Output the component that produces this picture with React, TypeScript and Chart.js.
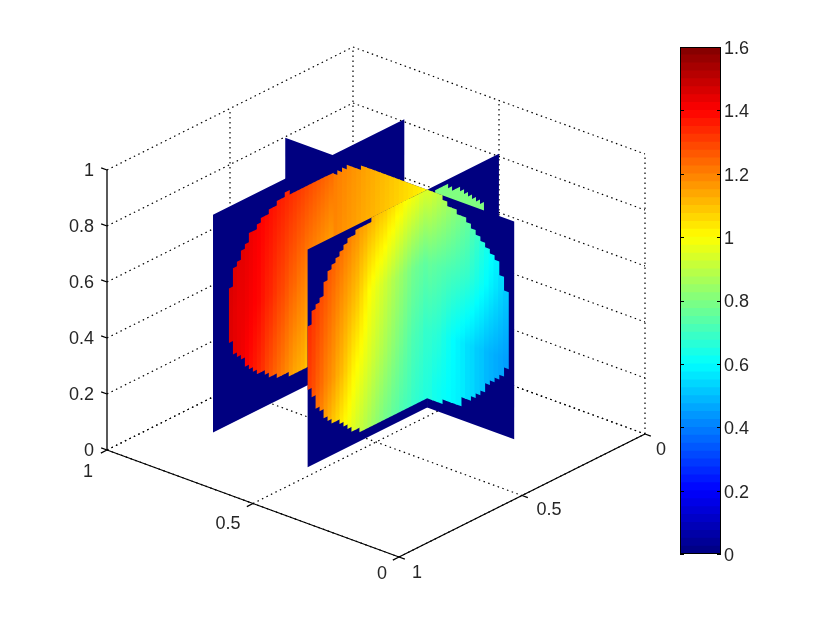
import React, { useEffect, useRef } from "react";
import { Chart, registerables } from "chart.js";

Chart.register(...registerables);

// ---- axis ticks and labels
const zTicks = [0, 0.2, 0.4, 0.6, 0.8, 1];
const zLabels = ["0", "0.2", "0.4", "0.6", "0.8", "1"];
const uTicks = [1, 0.5, 0];
const uLabels = ["1", "0.5", "0"];
const bTicks = [0, 0.5, 1]; // b = 1 - y value
const bLabels = ["1", "0.5", "0"];
const colorTicksMax = 1.6;

// ---- colorbar levels (upper bound of every jet band)
const colorLevels = [
  0.025, 0.05, 0.075, 0.1, 0.125, 0.15, 0.175, 0.2, 0.225, 0.25, 0.275, 0.3, 0.325, 0.35, 0.375, 0.4,
  0.425, 0.45, 0.475, 0.5, 0.525, 0.55, 0.575, 0.6, 0.625, 0.65, 0.675, 0.7, 0.725, 0.75, 0.775, 0.8,
  0.825, 0.85, 0.875, 0.9, 0.925, 0.95, 0.975, 1, 1.025, 1.05, 1.075, 1.1, 1.125, 1.15, 1.175, 1.2,
  1.225, 1.25, 1.275, 1.3, 1.325, 1.35, 1.375, 1.4, 1.425, 1.45, 1.475, 1.5, 1.525, 1.55, 1.575, 1.6,
];

// ---- plane A (back u-plane, grid column 10 of the v-plane), columns 4..29
const p1Rows = [4, 24, 44];
const p1Lo = [18, 15, 14, 13, 11, 10, 9, 8, 8, 7, 6, 6, 5, 5, 5, 4, 4, 4, 4, 4, 4, 4, 4, 4, 4, 4];
const p1Hi = [30, 34, 35, 37, 38, 40, 40, 41, 42, 42, 43, 43, 44, 44, 45, 44, 44, 44, 44, 44, 44, 44, 44, 44, 44, 44];
const p1V0 = [1.45, 1.44, 1.43, 1.41, 1.39, 1.37, 1.35, 1.33, 1.31, 1.28, 1.26, 1.24, 1.22, 1.2, 1.18, 1.16, 1.14, 1.13, 1.12, 1.1, 1.09, 1.08, 1.07, 1.06, 1.06, 1.05];
const p1V1 = [1.45, 1.44, 1.43, 1.43, 1.42, 1.41, 1.4, 1.39, 1.37, 1.35, 1.34, 1.32, 1.3, 1.29, 1.27, 1.25, 1.24, 1.22, 1.21, 1.19, 1.18, 1.17, 1.16, 1.15, 1.14, 1.13];
const p1V2 = [1.47, 1.46, 1.45, 1.45, 1.44, 1.43, 1.42, 1.41, 1.4, 1.39, 1.38, 1.37, 1.36, 1.35, 1.34, 1.33, 1.32, 1.31, 1.3, 1.29, 1.28, 1.27, 1.26, 1.25, 1.24, 1.23];

// ---- plane C (front u-plane), columns 0..29
const p3Rows = [2, 17, 32, 48];
const p3Lo = [17, 15, 12, 11, 9, 8, 7, 7, 6, 5, 4, 3, 3, 2, 2, 2, 2, 2, 2, 2, 2, 2, 2, 2, 2, 2, 2, 2, 2, 2];
const p3Hi = [31, 34, 35, 36, 39, 41, 42, 43, 44, 45, 46, 46, 47, 47, 47, 47, 48, 48, 48, 48, 48, 48, 48, 48, 48, 48, 48, 48, 48, 48];
const p3V0 = [1.22, 1.2, 1.17, 1.14, 1.11, 1.08, 1.05, 1.03, 1.0, 0.98, 0.96, 0.94, 0.92, 0.9, 0.88, 0.86, 0.84, 0.82, 0.8, 0.78, 0.77, 0.75, 0.74, 0.72, 0.71, 0.7, 0.68, 0.67, 0.66, 0.65];
const p3V1 = [1.3, 1.28, 1.25, 1.23, 1.2, 1.18, 1.16, 1.13, 1.11, 1.08, 1.05, 1.02, 1.0, 0.98, 0.96, 0.94, 0.92, 0.9, 0.88, 0.86, 0.84, 0.82, 0.8, 0.78, 0.76, 0.74, 0.72, 0.71, 0.7, 0.68];
const p3V2 = [1.33, 1.31, 1.29, 1.27, 1.25, 1.23, 1.21, 1.19, 1.17, 1.15, 1.13, 1.11, 1.09, 1.06, 1.03, 1.0, 0.98, 0.96, 0.94, 0.92, 0.9, 0.88, 0.86, 0.84, 0.82, 0.8, 0.78, 0.77, 0.76, 0.75];
const p3V3 = [1.34, 1.33, 1.32, 1.31, 1.3, 1.28, 1.27, 1.25, 1.24, 1.22, 1.21, 1.19, 1.18, 1.16, 1.15, 1.13, 1.12, 1.1, 1.09, 1.08, 1.06, 1.05, 1.03, 1.02, 1.0, 0.99, 0.98, 0.97, 0.95, 0.94];

// ---- plane B (v-plane), middle piece, columns 10..29
const p2mRows = [32, 48];
const p2mLo = [2, 2, 2, 2, 2, 2, 2, 2, 2, 2, 2, 2, 2, 2, 2, 2, 2, 2, 2, 2];
const p2mHi = [44, 45, 46, 47, 47, 47, 48, 48, 48, 48, 48, 48, 48, 48, 48, 48, 48, 48, 48, 48];
const p2mV0 = [1.19, 1.18, 1.17, 1.16, 1.15, 1.14, 1.13, 1.12, 1.11, 1.1, 1.09, 1.08, 1.07, 1.06, 1.05, 1.04, 1.02, 1.0, 0.98, 0.95];
const p2mV1 = [1.21, 1.2, 1.19, 1.18, 1.17, 1.16, 1.15, 1.14, 1.13, 1.12, 1.11, 1.1, 1.09, 1.08, 1.07, 1.06, 1.05, 1.04, 1.03, 1.01];

// ---- plane B (v-plane), front piece, columns 30..46
const p2rRows = [5, 17, 32, 48];
const p2rLo = [2, 2, 2, 3, 3, 3, 3, 5, 5, 6, 7, 8, 10, 11, 12, 13, 15];
const p2rHi = [48, 48, 48, 47, 46, 46, 45, 45, 44, 43, 42, 41, 40, 39, 38, 35, 32];
const p2rV0 = [0.65, 0.63, 0.62, 0.61, 0.6, 0.59, 0.58, 0.57, 0.55, 0.54, 0.52, 0.51, 0.49, 0.48, 0.47, 0.46, 0.45];
const p2rV1 = [0.68, 0.67, 0.66, 0.64, 0.62, 0.6, 0.585, 0.57, 0.55, 0.54, 0.52, 0.51, 0.49, 0.48, 0.47, 0.46, 0.45];
const p2rV2 = [0.76, 0.75, 0.74, 0.73, 0.72, 0.71, 0.7, 0.69, 0.68, 0.66, 0.64, 0.62, 0.6, 0.58, 0.56, 0.54, 0.52];
const p2rV3 = [0.94, 0.92, 0.9, 0.88, 0.86, 0.84, 0.82, 0.8, 0.78, 0.75, 0.72, 0.69, 0.66, 0.64, 0.62, 0.59, 0.56];

// ---- plane C, back piece: the sliver above plane B, columns 32..43
const p3bRows = [30, 48];
const p3bLo = [30, 30, 30, 30, 30, 30, 30, 30, 30, 30, 30, 30];
const p3bHi = [47, 47, 47, 46, 45, 45, 44, 43, 42, 41, 40, 39];
const p3bV0 = [0.8, 0.8, 0.8, 0.8, 0.8, 0.8, 0.8, 0.8, 0.8, 0.8, 0.8, 0.8];
const p3bV1 = [0.8, 0.8, 0.8, 0.8, 0.8, 0.8, 0.8, 0.8, 0.8, 0.8, 0.8, 0.8];

// ---- slice geometry in axis units
const GRID = 0.0162;
const U0 = 0.911;
const B0 = 0.133;
const W0 = 0.1;
const uAt = (c: number) => U0 - GRID * c;
const bAt = (c: number) => B0 + GRID * c;
const wAt = (r: number) => W0 + GRID * r;
const U_A = uAt(10);
const U_C = uAt(30);
const B_B = bAt(30);

// ---- 3D view projection into the flat chart scales
const project = (u: number, b: number, w: number) => ({
  x: 399 - 292 * u + 246 * b,
  y: 557 - 107 * u - 123 * b - 280 * w,
});

const jet = (v: number) => {
  const t = v / colorTicksMax;
  const c = (d: number) => Math.round(255 * Math.max(0, Math.min(1, 1.5 - Math.abs(4 * t - d))));
  return `rgb(${c(3)},${c(2)},${c(1)})`;
};

const DARK = jet(0);
const TEXT = "#262626";
const FONT_FAMILY = '"Liberation Sans", Arial, sans-serif';
const FONT = `18px ${FONT_FAMILY}`;

type Pt = { u: number; b: number; w: number };

const poly = (pts: Pt[], extra: any) => ({
  type: "scatter",
  data: pts.map((p) => project(p.u, p.b, p.w)),
  showLine: false,
  pointRadius: 0,
  ...extra,
});

// A whole blue plane piece. onU: plane of constant u, else constant b.
const basePiece = (onU: boolean, fixed: number, c0: number, c1: number) => {
  const at = (c: number, r: number): Pt =>
    onU ? { u: fixed, b: bAt(c), w: wAt(r) } : { u: uAt(c), b: fixed, w: wAt(r) };
  return poly([at(c0, 0), at(c1, 0), at(c1, 48), at(c0, 48)], { polyFill: DARK });
};

// One coloured column of a slice
const strips = (
  onU: boolean,
  fixed: number,
  firstCol: number,
  rows: number[],
  lo: number[],
  hi: number[],
  vals: number[][],
) =>
  lo.map((l, k) => {
    const c = firstCol + k;
    const at = (cc: number, r: number): Pt =>
      onU ? { u: fixed, b: bAt(cc), w: wAt(r) } : { u: uAt(cc), b: fixed, w: wAt(r) };
    const stops = rows.map((r, ri) => ({ y: project(at(c + 0.5, r).u, at(c + 0.5, r).b, at(c + 0.5, r).w).y, v: vals[ri][k] }));
    return poly([at(c, l), at(c + 1.25, l), at(c + 1.25, hi[k]), at(c, hi[k])], { polyStops: stops });
  });

const line = (a: Pt, b: Pt, dotted: boolean) => ({
  type: "scatter",
  data: [project(a.u, a.b, a.w), project(b.u, b.b, b.w)],
  showLine: true,
  pointRadius: 0,
  borderColor: "#000000",
  borderWidth: dotted ? 1.2 : 1.3,
  borderDash: dotted ? [1.5, 3.5] : [],
  fill: false,
});

const gridLines = () => {
  const out: any[] = [];
  zTicks.forEach((z) => {
    out.push(line({ u: 1, b: 0, w: z }, { u: 1, b: 1, w: z }, true));
    out.push(line({ u: 1, b: 1, w: z }, { u: 0, b: 1, w: z }, true));
  });
  bTicks.forEach((b) => {
    if (b > 0) out.push(line({ u: 1, b, w: 0 }, { u: 1, b, w: 1 }, true));
    out.push(line({ u: 1, b, w: 0 }, { u: 0, b, w: 0 }, true));
  });
  uTicks.forEach((u) => {
    if (u < 1) out.push(line({ u, b: 1, w: 0 }, { u, b: 1, w: 1 }, true));
    out.push(line({ u, b: 0, w: 0 }, { u, b: 1, w: 0 }, true));
  });
  return out;
};

const axisLines = () => {
  const out: any[] = [
    line({ u: 1, b: 0, w: 0 }, { u: 1, b: 0, w: 1 }, false),
    line({ u: 1, b: 0, w: 0 }, { u: 0, b: 0, w: 0 }, false),
    line({ u: 0, b: 0, w: 0 }, { u: 0, b: 1, w: 0 }, false),
  ];
  zTicks.forEach((z) => out.push(line({ u: 1, b: 0, w: z }, { u: 1.02, b: 0, w: z }, false)));
  uTicks.forEach((u) => out.push(line({ u, b: 0, w: 0 }, { u, b: -0.025, w: 0 }, false)));
  bTicks.forEach((b) => out.push(line({ u: 0, b, w: 0 }, { u: -0.02, b, w: 0 }, false)));
  return out;
};

const uOffsets = [[-19, 22], [-25, 21], [-17, 17]];
const bOffsets = [[18, 16], [27, 15], [16, 16]];

const sliceFill = {
  id: "sliceFill",
  afterDatasetsDraw(chart: any) {
    const ctx = chart.ctx;
    const ys = chart.scales.y;
    chart.data.datasets.forEach((ds: any, i: number) => {
      if (!ds.polyFill && !ds.polyStops) return;
      const pts = chart.getDatasetMeta(i).data;
      ctx.beginPath();
      pts.forEach((p: any, k: number) => (k ? ctx.lineTo(p.x, p.y) : ctx.moveTo(p.x, p.y)));
      ctx.closePath();
      if (ds.polyFill) {
        ctx.fillStyle = ds.polyFill;
      } else {
        const st = ds.polyStops;
        const y0 = ys.getPixelForValue(st[0].y);
        const y1 = ys.getPixelForValue(st[st.length - 1].y);
        const g = ctx.createLinearGradient(0, y0, 0, y1);
        for (let s = 0; s < st.length - 1; s++) {
          const a = (ys.getPixelForValue(st[s].y) - y0) / (y1 - y0);
          const b = (ys.getPixelForValue(st[s + 1].y) - y0) / (y1 - y0);
          for (let n = 0; n <= 6; n++) {
            g.addColorStop(a + ((b - a) * n) / 6, jet(st[s].v + ((st[s + 1].v - st[s].v) * n) / 6));
          }
        }
        ctx.fillStyle = g;
      }
      ctx.fill();
    });
  },
};

const tickText = {
  id: "tickText",
  afterDraw(chart: any) {
    const ctx = chart.ctx;
    const sx = chart.scales.x;
    const sy = chart.scales.y;
    const put = (p: { x: number; y: number }, dx: number, dy: number, s: string, align: CanvasTextAlign) => {
      ctx.textAlign = align;
      ctx.fillText(s, sx.getPixelForValue(p.x) + dx, sy.getPixelForValue(p.y) + dy);
    };
    ctx.save();
    ctx.font = FONT;
    ctx.fillStyle = TEXT;
    ctx.textBaseline = "middle";
    zTicks.forEach((z, i) => put(project(1, 0, z), -13, 1, zLabels[i], "right"));
    uTicks.forEach((u, i) => put(project(u, 0, 0), uOffsets[i][0], uOffsets[i][1], uLabels[i], "center"));
    bTicks.forEach((b, i) => put(project(0, b, 0), bOffsets[i][0], bOffsets[i][1], bLabels[i], "center"));
    ctx.restore();
  },
};

const barTicks = {
  id: "barTicks",
  afterDraw(chart: any) {
    const { ctx, chartArea: a, scales } = chart;
    ctx.save();
    ctx.strokeStyle = "#000000";
    ctx.lineWidth = 1;
    ctx.strokeRect(a.left + 0.5, a.top + 0.5, a.right - a.left - 1, a.bottom - a.top - 1);
    scales.y.ticks.forEach((t: any) => {
      const y = Math.round(scales.y.getPixelForValue(t.value)) + 0.5;
      ctx.beginPath();
      ctx.moveTo(a.left, y);
      ctx.lineTo(a.left + 4, y);
      ctx.moveTo(a.right - 4, y);
      ctx.lineTo(a.right, y);
      ctx.stroke();
    });
    ctx.restore();
  },
};

const canvasStyle: React.CSSProperties = { position: "absolute", left: 0, top: 0 };

export default function App() {
  const mainRef = useRef<HTMLCanvasElement>(null);
  const barRef = useRef<HTMLCanvasElement>(null);

  useEffect(() => {
    document.body.style.margin = "0";
    document.body.style.background = "#ffffff";

    const datasets: any[] = [
      ...gridLines(),
      ...axisLines(),
      // painter's order: far pieces first
      basePiece(false, B_B, 0, 11),
      basePiece(true, U_A, 30, 48),
      basePiece(true, U_C, 30, 48),
      ...strips(true, U_C, 32, p3bRows, p3bLo, p3bHi, [p3bV0, p3bV1]),
      basePiece(false, B_B, 10, 30),
      ...strips(false, B_B, 10, p2mRows, p2mLo, p2mHi, [p2mV0, p2mV1]),
      basePiece(true, U_A, 0, 30),
      ...strips(true, U_A, 4, p1Rows, p1Lo, p1Hi, [p1V0, p1V1, p1V2]),
      basePiece(false, B_B, 30, 48.4),
      ...strips(false, B_B, 30, p2rRows, p2rLo, p2rHi, [p2rV0, p2rV1, p2rV2, p2rV3]),
      basePiece(true, U_C, 0, 30),
      ...strips(true, U_C, 0, p3Rows, p3Lo, p3Hi, [p3V0, p3V1, p3V2, p3V3]),
    ];

    const main = new Chart(mainRef.current as HTMLCanvasElement, {
      type: "scatter",
      data: { datasets },
      plugins: [sliceFill, tickText],
      options: {
        responsive: false,
        animation: false,
        events: [],
        layout: { padding: 0 },
        plugins: { legend: { display: false }, tooltip: { enabled: false } },
        scales: {
          x: { type: "linear", min: 0, max: 830, display: false },
          y: { type: "linear", min: 0, max: 623, reverse: true, display: false },
        },
      },
    } as any);

    const bar = new Chart(barRef.current as HTMLCanvasElement, {
      type: "bar",
      data: {
        labels: ["colorbar"],
        datasets: colorLevels.map((hi) => ({
          data: [hi],
          backgroundColor: jet(hi - 0.0125),
          borderWidth: 0,
          barPercentage: 1,
          categoryPercentage: 1,
          grouped: false,
        })),
      },
      plugins: [barTicks],
      options: {
        responsive: false,
        animation: false,
        events: [],
        layout: { padding: { left: 680, right: 69, top: 47, bottom: 69 } },
        plugins: { legend: { display: false }, tooltip: { enabled: false } },
        scales: {
          x: { display: false, grid: { display: false } },
          y: {
            position: "right",
            min: 0,
            max: colorTicksMax,
            afterFit: (s: any) => {
              s.width = 40;
            },
            border: { display: false },
            grid: { display: false, drawTicks: false },
            ticks: {
              stepSize: 0.2,
              padding: 3,
              labelOffset: 2,
              color: TEXT,
              font: { family: FONT_FAMILY, size: 18 },
              callback: (v: any) => String(Math.round(Number(v) * 10) / 10),
            },
          },
        },
      },
    } as any);

    return () => {
      main.destroy();
      bar.destroy();
    };
  }, []);

  return (
    <div style={{ position: "relative", width: 830, height: 623 }}>
      <canvas ref={mainRef} width={830} height={623} style={canvasStyle} />
      <canvas ref={barRef} width={830} height={623} style={canvasStyle} />
    </div>
  );
}
